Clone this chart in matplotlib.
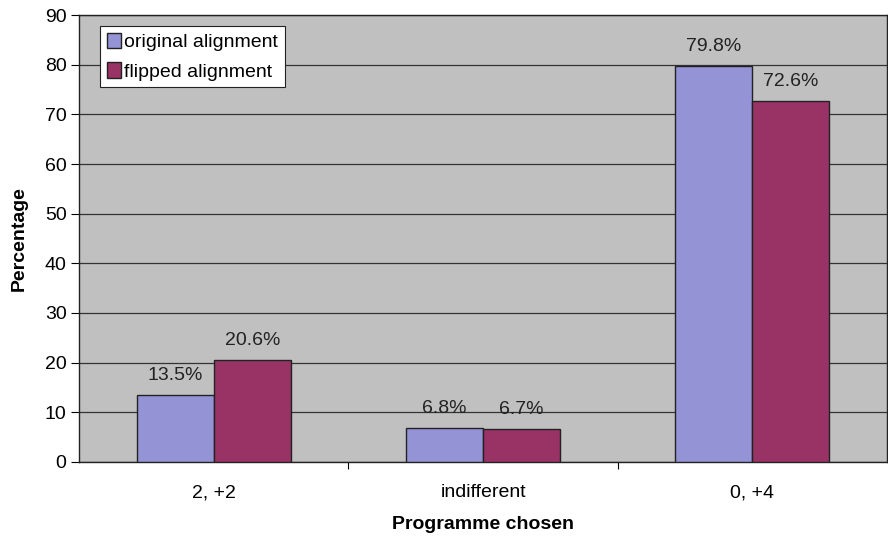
import matplotlib
matplotlib.use("Agg")
import matplotlib.pyplot as plt
import numpy as np

categories = ["2, +2", "indifferent", "0, +4"]
original = [13.5, 6.8, 79.8]
flipped = [20.6, 6.7, 72.6]
series_names = ["original alignment", "flipped alignment"]
yticks = list(range(0, 100, 10))

plt.rcParams["font.family"] = ["Liberation Sans", "DejaVu Sans"]
FS = 14.0

fig = plt.figure(figsize=(8.88, 5.38), dpi=100)
ax = fig.add_axes([0.089, 0.1413, 0.910, 0.8308])
ax.set_facecolor("#C0C0C0")

x = np.arange(len(categories))
w = 0.286
b1 = ax.bar(x - w / 2, original, w, color="#9393D6", edgecolor="#222222",
            linewidth=1.0, label=series_names[0], zorder=3)
b2 = ax.bar(x + w / 2, flipped, w, color="#993366", edgecolor="#222222",
            linewidth=1.0, label=series_names[1], zorder=3)

for bars, vals in ((b1, original), (b2, flipped)):
    for r, v in zip(bars, vals):
        ax.annotate(f"{v}%", (r.get_x() + r.get_width() / 2, v),
                    xytext=(0, 8), textcoords="offset points",
                    ha="center", va="bottom", fontsize=FS, color="#222222")

ax.set_xlim(-0.5, len(categories) - 0.5)
ax.set_ylim(0, 90)
ax.set_yticks(yticks)
ax.yaxis.grid(True, color="#333333", linewidth=0.9, zorder=1)
ax.set_axisbelow(True)

ax.set_xticks(x)
ax.set_xticklabels(categories)
ax.set_xticks(np.arange(0.5, len(categories) - 0.5, 1.0), minor=True)
ax.tick_params(axis="x", which="major", length=0, pad=16, labelsize=FS)
ax.tick_params(axis="x", which="minor", length=5, width=0.8, direction="out")
ax.tick_params(axis="y", length=6, width=0.8, direction="out", labelsize=FS, pad=3)

for s in ax.spines.values():
    s.set_color("#222222")
    s.set_linewidth(1.0)

ax.set_ylabel("Percentage", fontsize=FS, fontweight="bold", labelpad=12)
ax.set_xlabel("Programme chosen", fontsize=FS, fontweight="bold", labelpad=11)

leg = ax.legend(loc="upper left", bbox_to_anchor=(0.026, 0.975), fontsize=FS,
                frameon=True, fancybox=False, handlelength=0.75, handleheight=0.85,
                handletextpad=0.15, borderpad=0.35, labelspacing=0.55,
                borderaxespad=0)
leg.get_frame().set_edgecolor("#222222")
leg.get_frame().set_linewidth(0.8)
leg.get_frame().set_facecolor("white")
leg.get_frame().set_alpha(1)

fig.savefig("out.png", dpi=100)
